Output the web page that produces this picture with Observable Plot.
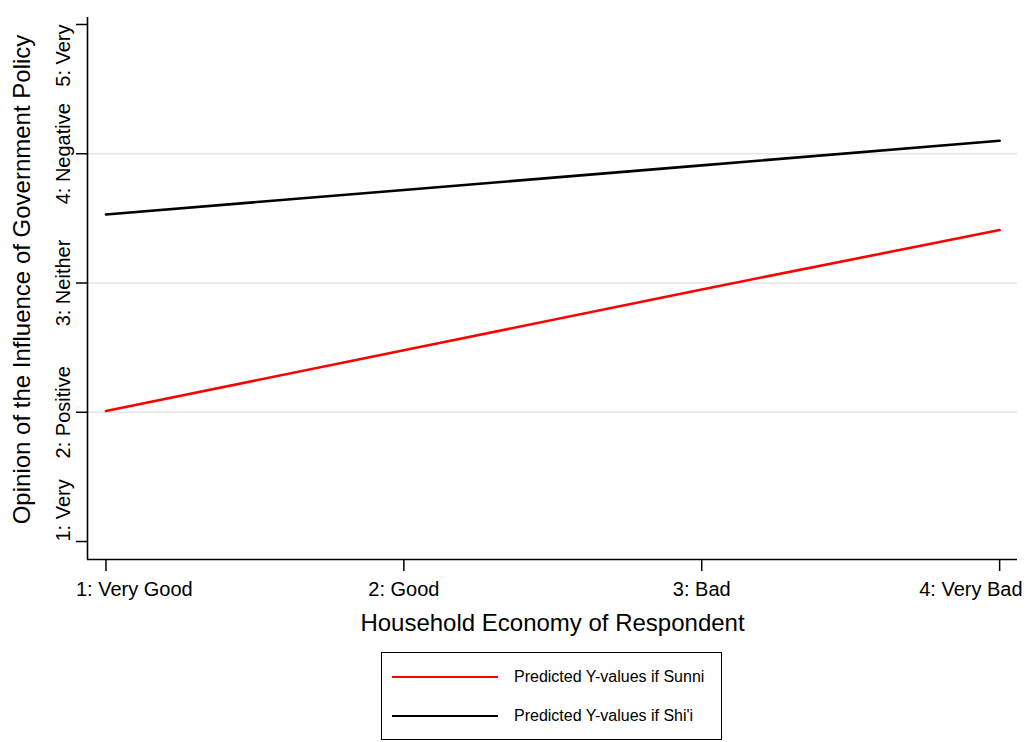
<!DOCTYPE html>
<html>
<head>
<meta charset="utf-8">
<script src="https://cdn.jsdelivr.net/npm/d3@7"></script>
<script src="https://cdn.jsdelivr.net/npm/@observablehq/plot@0.6"></script>
<style>
  html, body { margin: 0; padding: 0; background: #fff; }
  #wrap { position: relative; width: 1029px; height: 742px; font-family: "Liberation Sans", Arial, sans-serif; }
  #legend { position: absolute; left: 381px; top: 652px; width: 341px; height: 88px; border: 1.3px solid #000; box-sizing: border-box; background: #fff; }
  .row { position: absolute; left: 10px; height: 20px; display: flex; align-items: center; }
  .sw { width: 106px; height: 2.5px; margin-right: 16px; }
  .lt { font-size: 16px; color: #000; white-space: nowrap; }
</style>
</head>
<body>
<div id="wrap">
  <div id="chart"></div>
  <div id="legend"></div>
</div>
<script>
const xTicks = [1, 2, 3, 4];
const xTickLabels = ["1: Very Good", "2: Good", "3: Bad", "4: Very Bad"];
const yTicks = [1, 2, 3, 4, 5];
const yTickLabels = ["1: Very", "2: Positive", "3: Neither", "4: Negative", "5: Very"];
const gridValues = [2, 3, 4];
const sunni = [2.01, 2.48, 2.95, 3.41];
const shii = [3.53, 3.72, 3.91, 4.10];
const seriesNames = ["Predicted Y-values if Sunni", "Predicted Y-values if Shi'i"];
const seriesColors = ["#ff0000", "#000000"];
const xTitle = "Household Economy of Respondent";
const yTitle = "Opinion of the Influence of Government Policy";
const xDomain = [0.938, 4.06];
const yDomain = [0.861, 5.054];

const lineData = [];
xTicks.forEach((x, i) => lineData.push({x, y: sunni[i], s: seriesNames[0]}));
xTicks.forEach((x, i) => lineData.push({x, y: shii[i], s: seriesNames[1]}));
const yLabelData = yTicks.map((v, i) => ({v, label: yTickLabels[i]}));
const xLabelData = xTicks.map((v, i) => ({v, label: xTickLabels[i]}));
const lastY = yLabelData.length - 1;
const lastX = xLabelData.length - 1;

const chart = Plot.plot({
  width: 1029,
  height: 645,
  marginLeft: 87,
  marginRight: 12,
  marginTop: 17,
  marginBottom: 86,
  style: {fontFamily: '"Liberation Sans", Arial, sans-serif', background: "#fff", color: "#000", overflow: "visible"},
  x: {domain: xDomain},
  y: {domain: yDomain},
  marks: [
    Plot.ruleY(gridValues, {stroke: "#e6e6e6", strokeWidth: 1.6}),
    Plot.ruleX([xDomain[0]], {stroke: "#000", strokeWidth: 1.6}),
    Plot.ruleY([yDomain[0]], {stroke: "#000", strokeWidth: 1.6}),
    Plot.axisX({ticks: xTicks, tickFormat: () => "", tickSize: 12, strokeWidth: 1.5, label: null}),
    Plot.axisY({ticks: yTicks, tickFormat: () => "", tickSize: 11, strokeWidth: 1.5, label: null}),
    // x tick labels (Stata shifts the edge labels inward)
    Plot.text(xLabelData.filter((d, i) => i === 0), {x: "v", text: "label", frameAnchor: "bottom", textAnchor: "start", lineAnchor: "top", dx: -30, dy: 22, fontSize: 20}),
    Plot.text(xLabelData.filter((d, i) => i > 0 && i < lastX), {x: "v", text: "label", frameAnchor: "bottom", textAnchor: "middle", lineAnchor: "top", dy: 22, fontSize: 20}),
    Plot.text(xLabelData.filter((d, i) => i === lastX), {x: "v", text: "label", frameAnchor: "bottom", textAnchor: "end", lineAnchor: "top", dx: 23, dy: 22, fontSize: 20}),
    // y tick labels, rotated
    Plot.text(yLabelData.filter((d, i) => i === 0), {y: "v", text: "label", frameAnchor: "left", rotate: -90, textAnchor: "start", lineAnchor: "bottom", dx: -18, fontSize: 20}),
    Plot.text(yLabelData.filter((d, i) => i > 0 && i < lastY), {y: "v", text: "label", frameAnchor: "left", rotate: -90, textAnchor: "middle", lineAnchor: "bottom", dx: -18, fontSize: 20}),
    Plot.text(yLabelData.filter((d, i) => i === lastY), {y: "v", text: "label", frameAnchor: "left", rotate: -90, textAnchor: "end", lineAnchor: "bottom", dx: -18, fontSize: 20}),
    Plot.text([yTitle], {text: (d) => d, frameAnchor: "left", rotate: -90, textAnchor: "middle", lineAnchor: "bottom", dx: -58, dy: -9, fontSize: 24}),
    Plot.text([xTitle], {text: (d) => d, frameAnchor: "bottom", textAnchor: "middle", lineAnchor: "bottom", dy: 71, fontSize: 24}),
    Plot.line(lineData, {x: "x", y: "y", z: "s", stroke: "s", strokeWidth: 2.6})
  ],
  color: {domain: seriesNames, range: seriesColors}
});
document.getElementById("chart").appendChild(chart);

const legend = document.getElementById("legend");
const rowTops = [14, 53];
seriesNames.forEach((name, i) => {
  const row = document.createElement("div");
  row.className = "row";
  row.style.top = rowTops[i] + "px";
  const sw = document.createElement("div");
  sw.className = "sw";
  sw.style.background = seriesColors[i];
  const t = document.createElement("span");
  t.className = "lt";
  t.textContent = name;
  row.appendChild(sw);
  row.appendChild(t);
  legend.appendChild(row);
});
</script>
</body>
</html>
